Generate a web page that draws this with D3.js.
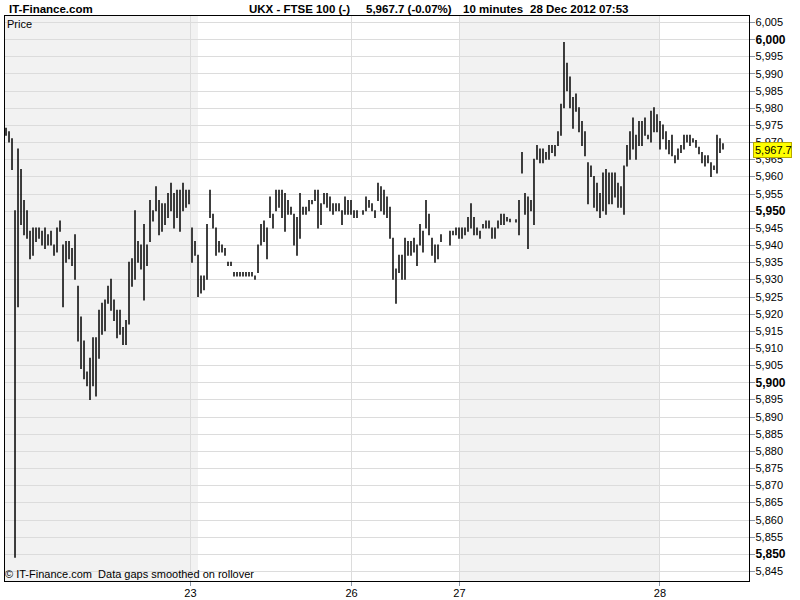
<!DOCTYPE html>
<html>
<head>
<meta charset="utf-8">
<script src="https://cdn.jsdelivr.net/npm/d3@7"></script>
<style>
  body { margin: 0; background: #fff; }
  svg text { font-family: "Liberation Sans", Arial, sans-serif; white-space: pre; }
</style>
</head>
<body>
<svg id="chart"></svg>
<script>
// 10 minute high/low bars, UKX - FTSE 100 (null = no bar)
let barHigh = [5974,5973,5971,5950,5968,5962,5953,5950,5944,5945,5945,5945,5944,5945,5943,5944,5940,5945,5947,5940,
  5941,5941,5939,5943,5928,5919,5912,5903,5907,5913,5913,5921,5923,5924,5928,5930,5924,5921,5921,5916,
  5918,5935,5936,5950,5941,5940,5946,5940,5953,5950,5957,5953,5952,5952,5955,5958,5955,5956,5956,5958,
  5956,5956,5945,5941,5937,5931,5931,5946,5956,5949,5945,5941,5940,5939,5935,5935,5932,5932,5932,5932,
  5932,5932,5932,5931,5940,5946,5947,5945,5954,5949,5956,5956,5956,5955,5953,5951,5949,5948,5955,5951,
  5951,5953,5953,5956,5956,5952,5955,5955,5954,5952,5952,5952,5950,5954,5953,5953,5950,5950,null,5950,
  5954,5953,5952,5950,5958,5957,5956,5954,5951,5942,5933,5937,5937,5942,5941,5941,5942,5940,5946,5944,
  5953,5949,5942,5940,5940,5943,null,null,5944,5944,5945,5945,5945,5945,5948,5952,5948,5945,5944,5946,
  5947,5947,5945,5945,5947,5949,5949,5948,5947.5,null,5947.4,5953,5967,5955,5954,5953,5965,5969,5968,5968,
  5967,5969,5969,5969,5973,5981,5999,5993,5989,5983,5984,5980,5976,5973,5964,5963,5960,5958,5955,5961,
  5962,5961,5961,5961,5958,5957,5963,5969,5973,5977,5972,5976,5976,5977,5972,5979,5980,5978,5976,5975,
  5973,5970.5,5972,5966,5968,5969,5972,5972,5972,5971,5970.5,5968.5,5967,5966,5966,5964,5963,5972,5971,5969.5]
let barLow = [5972,5970,5962,5849,5922,5946,5943,5942,5936,5937,5941,5942,5940,5939,5940,5940,5937,5938,5944,5922,
  5935,5936,5934,5930,5912,5904,5901,5899,5895,5899,5896,5907,5914,5915,5923,5921,5918,5913,5914,5911,
  5911,5917,5928,5930,5935,5933,5924,5934,5941,5947,5950,5943,5944,5946,5948,5950,5945,5948,5944,5950,
  5951,5952,5935,5937,5925,5926,5927,5930,5948,5945,5937,5938,5938,5937,5934,5934,5931,5931,5931,5931,
  5931,5931,5931,5930,5932,5940,5941,5936,5948,5945,5950,5951,5948,5944,5949,5949,5940,5937,5942,5949,
  5949,5950,5952,5953,5945,5946,5952,5951,5950,5949,5950,5950,5946,5949,5949,5949,5948,5948,null,5949,
  5950,5951,5950,5948,5953,5950,5949,5948,5942,5930,5923,5932,5930,5930,5937,5937,5938,5934,5940,5938,
  5945,5943,5937,5935,5936,5941,null,null,5940,5943,5943,5942,5942,5943,5944,5945,5943,5943,5942,5945,
  5945,5945,5942,5942,5945,5946,5946,5947,5946.8,null,5946.7,5943,5961,5949,5939,5950,5946,5965,5964,5964,
  5965,5965,5967,5966,5969,5972,5980,5985,5980,5974,5979,5973,5969,5966,5952,5960,5951,5950,5948,5950,
  5949,5952,5952,5954,5951,5951,5949,5963,5965,5968,5965,5969,5969,5972,5971,5970,5973,5973,5968,5971,
  5968,5966.6,5966,5964,5965,5967,5968,5970,5969,5970,5968.5,5966.6,5964,5963,5964,5960,5962,5961,5967,5968]

let lastPrice = 5967.7
let priceTicks = d3.range(5845, 6006, 5)
// day boundaries on the bar index axis
let dayTickPos = [61.33, 115, 151, 217.83]
let dayTickLabels = ["23", "26", "27", "28"]
let shadedDays = [[-0.67, 64], [151, 217.83]]

let titleParts = [
  {text: "IT-Finance.com", x: 9},
  {text: "UKX - FTSE 100 (-)", x: 249},
  {text: "5,967.7 (-0.07%)", x: 366},
  {text: "10 minutes", x: 463},
  {text: "28 Dec 2012 07:53", x: 530}
]

let W = 800, H = 600
let plot = {left: 4, right: 749, top: 15, bottom: 581}

let svg = d3.select('#chart')
    .attr('width', W)
    .attr('height', H)

svg.append('rect')
    .attr('width', W).attr('height', H)
    .attr('fill', '#fff')

let x = d3.scaleLinear()
    .domain([-0.67, 247.67])
    .range([plot.left, plot.right])

let y = d3.scaleLinear()
    .domain([5845, 6005])
    .range([571, 22])

// shaded day bands
svg.append('g')
    .selectAll('rect')
    .data(shadedDays)
    .enter()
    .append('rect')
    .attr('x', function(d){ return x(d[0]) })
    .attr('y', plot.top)
    .attr('width', function(d){ return x(d[1]) - x(d[0]) })
    .attr('height', plot.bottom - plot.top)
    .attr('fill', '#f2f2f2')

// grid
let grid = svg.append('g').attr('shape-rendering', 'crispEdges')
grid.selectAll('line.h')
    .data(priceTicks)
    .enter()
    .append('line')
    .attr('class', 'h')
    .attr('x1', plot.left).attr('x2', plot.right)
    .attr('y1', function(d){ return Math.round(y(d)) + 0.5 })
    .attr('y2', function(d){ return Math.round(y(d)) + 0.5 })
    .attr('stroke', '#dcdcdc')
grid.selectAll('line.v')
    .data(dayTickPos)
    .enter()
    .append('line')
    .attr('class', 'v')
    .attr('x1', function(d){ return Math.round(x(d)) + 0.5 })
    .attr('x2', function(d){ return Math.round(x(d)) + 0.5 })
    .attr('y1', plot.top).attr('y2', plot.bottom)
    .attr('stroke', '#dcdcdc')

// high/low bars
let bars = barHigh.map(function(h, i){ return {i: i, high: h, low: barLow[i]} })
    .filter(function(d){ return d.high != null })

svg.append('g')
    .selectAll('line')
    .data(bars)
    .enter()
    .append('line')
    .attr('x1', function(d){ return x(d.i) })
    .attr('x2', function(d){ return x(d.i) })
    .attr('y1', function(d){ return y(d.high) - 0.5 })
    .attr('y2', function(d){ return Math.max(y(d.low), y(d.high) + 1) + 0.5 })
    .attr('stroke', '#000')
    .attr('stroke-width', 1.5)

// frame
svg.append('rect')
    .attr('x', plot.left + 0.5).attr('y', plot.top + 0.5)
    .attr('width', plot.right - plot.left).attr('height', plot.bottom - plot.top)
    .attr('fill', 'none')
    .attr('stroke', '#000')
    .attr('shape-rendering', 'crispEdges')

// right price axis
let yAxis = svg.append('g')
    .attr('transform', 'translate(' + (plot.right + 0.5) + ',0)')
    .call(d3.axisRight(y).tickValues(priceTicks).tickSize(5).tickPadding(1).tickFormat(d3.format(',')))
yAxis.select('.domain').remove()
yAxis.selectAll('line').attr('stroke', '#8a97a8').attr('shape-rendering', 'crispEdges')
yAxis.selectAll('text')
    .attr('fill', '#000')
    .style('font-size', function(d){ return d % 50 == 0 ? '12px' : '11px' })
    .style('font-weight', function(d){ return d % 50 == 0 ? 'bold' : 'normal' })

// bottom day axis
let xAxis = svg.append('g')
    .attr('transform', 'translate(0,' + (plot.bottom + 0.5) + ')')
    .call(d3.axisBottom(x).tickValues(dayTickPos).tickSize(4).tickPadding(4)
        .tickFormat(function(d, i){ return dayTickLabels[i] }))
xAxis.select('.domain').remove()
xAxis.selectAll('line').attr('stroke', '#8a97a8').attr('shape-rendering', 'crispEdges')
xAxis.selectAll('text').attr('fill', '#000').style('font-size', '11px')

// last price marker (drawn over the 5,970 / 5,965 labels, as in the original)
let lastY = y(lastPrice)
svg.append('rect')
    .attr('x', 753.5).attr('y', Math.round(lastY) - 7.5)
    .attr('width', 38).attr('height', 15)
    .attr('fill', '#ffff00')
    .attr('stroke', '#b8a800')
svg.append('text')
    .attr('x', 755).attr('y', lastY + 4)
    .style('font-size', '11px')
    .text(d3.format(',.1f')(lastPrice))

// titles
svg.append('g')
    .selectAll('text')
    .data(titleParts)
    .enter()
    .append('text')
    .attr('x', function(d){ return d.x })
    .attr('y', 13)
    .style('font-size', '11.5px')
    .style('font-weight', 'bold')
    .text(function(d){ return d.text })

svg.append('text')
    .attr('x', 7).attr('y', 28)
    .style('font-size', '11px')
    .text('Price')

svg.append('text')
    .attr('x', 5).attr('y', 578)
    .style('font-size', '11px')
    .text('\u00a9 IT-Finance.com  Data gaps smoothed on rollover')
</script>
</body>
</html>
